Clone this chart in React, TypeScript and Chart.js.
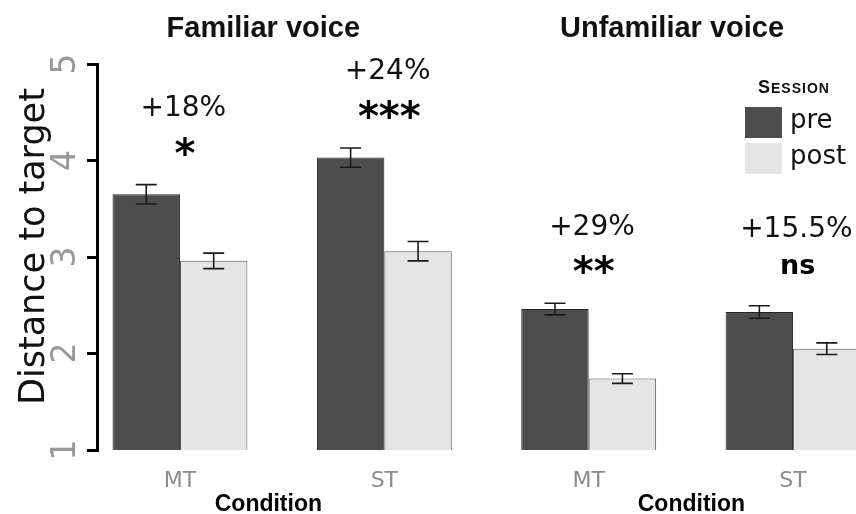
import React, { useEffect, useRef } from "react";
import { Chart, registerables } from "chart.js";

Chart.register(...registerables);

// ---- data ----
const conditions = ["MT", "ST", "MT", "ST"];
const panelTitles = ["Familiar voice", "Unfamiliar voice"];
const sessions = ["pre", "post"];
const preMeans = [3.65, 4.03, 2.46, 2.43];
const preErrors = [0.1, 0.1, 0.06, 0.065];
const postMeans = [2.96, 3.06, 1.74, 2.05];
const postErrors = [0.08, 0.1, 0.05, 0.06];
const changeLabels = ["+18%", "+24%", "+29%", "+15.5%"];
const significance = ["*", "***", "**", "ns"];
const yTickValues = [1, 2, 3, 4, 5];
const yTitle = "Distance to target";
const xTitle = "Condition";
const legendTitle = "Session";

const PRE_COLOR = "#4d4d4d";
const POST_COLOR = "#e5e5e5";

function inkText(ctx: CanvasRenderingContext2D, text: string, cx: number, cy: number, font: string, color: string) {
  ctx.save();
  ctx.font = font;
  ctx.fillStyle = color;
  ctx.textAlign = "left";
  ctx.textBaseline = "alphabetic";
  const m = ctx.measureText(text);
  const w = m.actualBoundingBoxRight + m.actualBoundingBoxLeft;
  const x = cx - w / 2 + m.actualBoundingBoxLeft;
  const y = cy + (m.actualBoundingBoxAscent - m.actualBoundingBoxDescent) / 2;
  ctx.fillText(text, x, y);
  ctx.restore();
}

function rotatedText(ctx: CanvasRenderingContext2D, text: string, baselineX: number, cy: number, font: string, color: string) {
  ctx.save();
  ctx.font = font;
  ctx.fillStyle = color;
  ctx.translate(baselineX, cy);
  ctx.rotate(-Math.PI / 2);
  ctx.textAlign = "left";
  ctx.textBaseline = "alphabetic";
  const m = ctx.measureText(text);
  const w = m.actualBoundingBoxRight + m.actualBoundingBoxLeft;
  ctx.fillText(text, -w / 2 + m.actualBoundingBoxLeft, 0);
  ctx.restore();
}

const decorPlugin = {
  id: "decor",
  afterDatasetsDraw(chart: any) {
    const ctx: CanvasRenderingContext2D = chart.ctx;
    const y = chart.scales.y;
    const groups = [
      { means: preMeans, errs: preErrors },
      { means: postMeans, errs: postErrors },
    ];
    ctx.save();
    ctx.strokeStyle = "#1a1a1a";
    ctx.lineWidth = 1.6;
    groups.forEach((g, di) => {
      const meta = chart.getDatasetMeta(di);
      meta.data.forEach((el: any, i: number) => {
        const cx = el.x;
        const top = y.getPixelForValue(g.means[i] + g.errs[i]);
        const bot = y.getPixelForValue(g.means[i] - g.errs[i]);
        const half = 10.5;
        ctx.beginPath();
        ctx.moveTo(cx, top);
        ctx.lineTo(cx, bot);
        ctx.moveTo(cx - half, top);
        ctx.lineTo(cx + half, top);
        ctx.moveTo(cx - half, bot);
        ctx.lineTo(cx + half, bot);
        ctx.stroke();
      });
    });
    ctx.restore();
  },
  afterDraw(chart: any) {
    const ctx: CanvasRenderingContext2D = chart.ctx;
    const x = chart.scales.x;
    const y = chart.scales.y;
    const area = chart.chartArea;

    // y tick labels (rotated, grey)
    yTickValues.forEach((v) => {
      rotatedText(ctx, String(v), area.left - 22, y.getPixelForValue(v), '33px "DejaVu Sans"', "#999999");
    });
    // y title
    rotatedText(ctx, yTitle, 44, y.getPixelForValue(3.12), '35px "DejaVu Sans"', "#111111");

    // panel titles
    [0.41, 2.41].forEach((pos, i) => {
      inkText(ctx, panelTitles[i], x.getPixelForValue(pos), 26, 'bold 29px "Liberation Sans"', "#111111");
    });
    // x titles
    [0.43, 2.5].forEach((pos) => {
      inkText(ctx, xTitle, x.getPixelForValue(pos), 502, 'bold 23px "Liberation Sans"', "#000000");
    });

    // change / significance annotations
    conditions.forEach((_, i) => {
      const cx = x.getPixelForValue(i);
      const topPx = y.getPixelForValue(preMeans[i] + preErrors[i]);
      inkText(ctx, changeLabels[i], cx + 4, topPx - 79, '28px "DejaVu Sans"', "#111111");
      const sig = significance[i];
      const sigFont = sig === "ns" ? 'bold 27px "DejaVu Sans"' : 'bold 40px "DejaVu Sans"';
      inkText(ctx, sig, cx + 5, topPx - 39, sigFont, "#000000");
    });

    // legend
    ctx.save();
    ctx.fillStyle = "#111111";
    ctx.textBaseline = "alphabetic";
    ctx.textAlign = "left";
    const title = legendTitle.toUpperCase();
    let lx = 758;
    ctx.font = 'bold 18px "Liberation Sans"';
    ctx.fillText(title[0], lx, 93);
    lx += ctx.measureText(title[0]).width + 1;
    ctx.font = 'bold 14px "Liberation Sans"';
    for (const ch of title.slice(1)) {
      ctx.fillText(ch, lx, 93);
      lx += ctx.measureText(ch).width + 1;
    }
    ctx.restore();
    sessions.forEach((s, i) => {
      const top = 107 + i * 36;
      ctx.save();
      ctx.fillStyle = chart.data.datasets[i].backgroundColor;
      ctx.fillRect(745, top, 37, 31);
      ctx.restore();
      ctx.save();
      ctx.font = '26px "DejaVu Sans"';
      ctx.fillStyle = "#111111";
      ctx.textAlign = "left";
      ctx.textBaseline = "middle";
      ctx.fillText(s, 790, top + 14);
      ctx.restore();
    });
  },
};

export default function App() {
  const canvasRef = useRef<HTMLCanvasElement | null>(null);

  useEffect(() => {
    const canvas = canvasRef.current;
    if (!canvas) return;
    const chart = new Chart(canvas, {
      type: "bar",
      data: {
        datasets: [
          {
            label: sessions[0],
            data: preMeans.map((v, i) => ({ x: i, y: v })),
            backgroundColor: PRE_COLOR,
            borderColor: "#262626",
            borderWidth: 1,
          },
          {
            label: sessions[1],
            data: postMeans.map((v, i) => ({ x: i, y: v })),
            backgroundColor: POST_COLOR,
            borderColor: "#5a5a5a",
            borderWidth: 1,
          },
        ],
      },
      options: {
        animation: false,
        responsive: false,
        maintainAspectRatio: false,
        layout: { padding: { top: 64, left: 0, right: 0, bottom: 0 } },
        datasets: { bar: { categoryPercentage: 0.66, barPercentage: 1 } } as any,
        plugins: {
          legend: { display: false },
          tooltip: { enabled: false },
          title: { display: false },
        },
        scales: {
          x: {
            type: "linear",
            offset: false,
            min: -0.406,
            max: 3.308,
            grid: { display: false, drawTicks: false, offset: false },
            border: { display: false },
            ticks: {
              stepSize: 1,
              includeBounds: false,
              autoSkip: false,
              maxRotation: 0,
              minRotation: 0,
              padding: 18,
              color: "#8c8c8c",
              font: { family: "DejaVu Sans", size: 22 },
              callback: (v: any) => (Number.isInteger(v) ? conditions[v] ?? "" : ""),
            },
            afterFit: (s: any) => {
              s.height = 64;
            },
          } as any,
          y: {
            min: 1,
            max: 5,
            ticks: { display: false, stepSize: 1 },
            grid: { drawOnChartArea: false, drawTicks: true, tickLength: 10, color: "#000000", lineWidth: 3 },
            border: { display: true, color: "#000000", width: 3 },
            afterFit: (s: any) => {
              s.width = 97;
            },
          } as any,
        },
      },
      plugins: [decorPlugin],
    });
    return () => chart.destroy();
  }, []);

  return (
    <div style={{ position: "fixed", left: 0, top: 0, width: 856, height: 514, overflow: "hidden", background: "#fff" }}>
      <canvas ref={canvasRef} width={856} height={514} style={{ display: "block" }} />
    </div>
  );
}
